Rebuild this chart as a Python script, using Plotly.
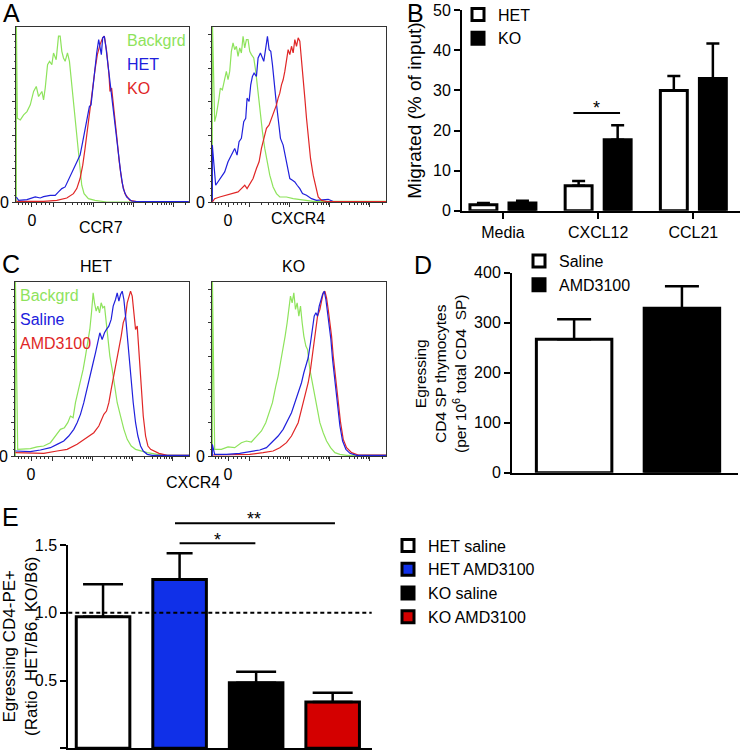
import math
import plotly.graph_objects as go

FONT = "Arial, Liberation Sans, sans-serif"
GREEN = "#8ee35c"
BLUE = "#2020dc"
RED = "#e02626"
BAR_BLUE = "#1030e8"
BAR_RED = "#d40000"
W, H = 740, 754

# ---------------- A: flow histograms (channel, % of max) ----------------
A_CCR7_BG_X = [0, 0, 3, 12, 22, 32, 42, 52, 60, 67, 77, 82, 87, 94, 100, 107, 112, 120, 127, 132,
               137, 142, 147, 154, 160, 167, 177, 182, 187, 192, 197, 204, 217, 237, 272, 519]
A_CCR7_BG_Y = [0, 110, 50, 49, 52, 54, 58, 66, 69, 63, 66, 61, 68, 82, 84, 82, 89, 85, 99, 99,
               90, 86, 84, 89, 84, 70, 52, 40, 28, 18, 10, 5, 2, 1, 0, 0]
A_CCR7_HET_X = [0, 7, 32, 57, 72, 82, 102, 117, 127, 137, 147, 157, 167, 174, 182, 192, 200, 207, 214, 220,
                225, 230, 237, 242, 248, 252, 256, 260, 265, 270, 277, 284, 292, 300, 307, 314, 322, 332,
                347, 362, 519]
A_CCR7_HET_Y = [3, 1, 1.4, 3, 2.4, 3.2, 4, 4, 6, 8, 9, 13, 17, 20, 24, 28, 36, 44, 50, 57,
                58, 68, 80, 89, 97, 93, 88, 98, 99, 92, 80, 70, 58, 44, 30, 18, 8, 3,
                0.6, 0.3, 0.3]
A_CCR7_KO_X = [0, 82, 122, 152, 172, 182, 192, 200, 207, 214, 222, 230, 237, 244, 252, 260, 265, 272, 279,
               282, 287, 294, 302, 310, 318, 327, 342, 362, 519]
A_CCR7_KO_Y = [0.4, 0.4, 1, 2.4, 5, 8, 14, 22, 32, 44, 56, 68, 79, 88, 94, 98, 99, 90, 76,
               66, 68, 56, 40, 24, 12, 5, 1, 0.3, 0.3]

A_CXCR4_BG_X = [0, 0, 7, 12, 20, 24, 30, 37, 42, 47, 52, 57, 62, 67, 72, 77, 82, 87, 92, 97,
                102, 107, 112, 117, 124, 130, 135, 140, 145, 150, 157, 164, 172, 182, 192, 202, 222,
                242, 272, 302, 520]
A_CXCR4_BG_Y = [0, 110, 48, 52, 62, 68, 67, 74, 78, 73, 78, 90, 95, 91, 93, 87, 92, 89, 99, 92,
                97, 97, 90, 88, 86, 78, 68, 58, 52, 42, 32, 24, 16, 9, 5, 3, 3,
                2, 1, 0.4, 0.4]
A_CXCR4_HET_X = [0, 0, 10, 17, 27, 37, 47, 57, 67, 74, 80, 87, 94, 100, 104, 110, 115, 120, 125, 132,
                 137, 144, 150, 154, 160, 165, 170, 175, 180, 185, 190, 197, 204, 212, 218, 224, 232,
                 240, 247, 254, 262, 270, 282, 297, 312, 347, 362, 520]
A_CXCR4_HET_Y = [0, 34, 10, 12, 15, 18, 24, 28, 32, 28, 36, 38, 48, 50, 62, 60, 70, 75, 77, 75,
                 86, 89, 86, 84, 92, 99, 91, 90, 82, 70, 62, 50, 38, 34, 28, 20, 14,
                 13, 12, 10, 8, 5, 4, 2, 1, 1.6, 0.3, 0.3]
A_CXCR4_KO_X = [0, 7, 22, 42, 62, 77, 87, 97, 104, 112, 122, 132, 140, 147, 154, 162, 170, 177, 184, 192,
                197, 202, 207, 212, 217, 222, 227, 232, 237, 242, 247, 252, 257, 262, 267, 272, 277,
                282, 287, 294, 302, 310, 317, 327, 342, 520]
A_CXCR4_KO_Y = [0, 2, 3, 4, 5, 6, 8, 10, 8, 11, 14, 20, 24, 32, 38, 44, 46, 50, 53, 58,
                62, 65, 70, 73, 78, 84, 91, 88, 93, 89, 97, 93, 98, 96, 86, 74, 62,
                50, 38, 26, 16, 8, 3, 1, 0.3, 0.3]

# ---------------- C: CXCR4 histograms, HET and KO mice ----------------
C_HET_BG_X = [0, 0, 7, 25, 45, 65, 85, 105, 120, 135, 147, 157, 165, 173, 180, 187, 195, 203, 210, 217,
              223, 228, 233, 237, 242, 247, 252, 257, 262, 267, 272, 277, 283, 290, 297, 305, 315,
              325, 335, 347, 360, 375, 395, 425, 455, 522]
C_HET_BG_Y = [0, 110, 4, 4, 4.4, 5.5, 6, 8, 12, 16, 17, 20, 24, 23, 32, 38, 46, 52, 60, 68,
              76, 86, 98, 92, 87, 90, 86, 92, 89, 90, 80, 70, 60, 52, 42, 32, 24,
              16, 10, 6, 4, 3, 2, 1, 0.4, 0.4]
C_HET_SAL_X = [0, 25, 45, 75, 105, 125, 145, 160, 175, 185, 195, 205, 215, 225, 233, 240, 247, 253, 260,
               267, 273, 280, 287, 293, 300, 305, 310, 315, 320, 325, 330, 335, 341, 347, 353, 360,
               367, 375, 383, 395, 410, 522]
C_HET_SAL_Y = [3, 3, 2.6, 3.6, 5, 7, 9, 12, 16, 20, 25, 32, 40, 48, 56, 62, 68, 74, 70,
               74, 76, 78, 82, 90, 94, 98, 93, 97, 99, 94, 84, 72, 58, 44, 32, 20,
               12, 6, 3, 1, 0.4, 0.4]
C_HET_AMD_X = [0, 45, 85, 125, 155, 185, 205, 220, 235, 250, 265, 273, 280, 287, 295, 303, 310, 317, 323,
               330, 335, 340, 345, 350, 355, 360, 365, 370, 377, 383, 390, 397, 405, 415, 430, 455, 522]
C_HET_AMD_Y = [2, 2, 1.6, 3, 4, 7, 10, 12, 14, 18, 25, 27, 32, 40, 48, 56, 64, 72, 80,
               84, 92, 96, 99, 96, 86, 76, 78, 62, 42, 24, 12, 6, 4, 3, 1.6, 0.4, 0.4]

C_KO_BG_X = [0, 0, 7, 27, 47, 67, 87, 102, 117, 132, 147, 160, 170, 180, 190, 197, 204, 212, 218, 224,
             229, 234, 239, 244, 249, 254, 259, 264, 269, 274, 280, 285, 292, 300, 307, 314, 322,
             332, 342, 354, 367, 382, 402, 522]
C_KO_BG_Y = [0, 110, 4, 4, 5.5, 5, 8, 9, 8.4, 12, 15, 20, 26, 32, 42, 48, 56, 64, 72, 80,
             90, 96, 92, 98, 88, 92, 84, 90, 80, 72, 66, 64, 52, 44, 36, 28, 20,
             14, 9, 5, 2, 1, 0.4, 0.4]
C_KO_SAL_X = [0, 0, 7, 42, 82, 112, 142, 162, 182, 197, 212, 227, 237, 247, 257, 267, 274, 280, 287, 294,
              300, 305, 310, 315, 320, 325, 330, 335, 340, 345, 350, 355, 360, 367, 374, 382, 390,
              400, 412, 432, 522]
C_KO_SAL_Y = [0, 7, 1, 1, 1.6, 2.4, 3.6, 5, 9, 12, 16, 22, 26, 32, 38, 44, 50, 54, 59, 68,
              76, 84, 86, 84, 90, 94, 97, 99, 94, 86, 78, 70, 58, 44, 30, 18, 9,
              4, 1.6, 0.4, 0.4]
C_KO_AMD_X = [0, 62, 112, 152, 182, 202, 222, 237, 247, 257, 267, 277, 287, 294, 300, 305, 310, 315, 322,
              327, 332, 337, 342, 347, 352, 357, 362, 369, 376, 384, 392, 402, 417, 437, 522]
C_KO_AMD_Y = [0.6, 0.6, 1, 2, 3, 5, 8, 12, 16, 20, 28, 36, 44, 52, 62, 70, 78, 84, 88,
              94, 98, 99, 95, 88, 80, 72, 60, 46, 32, 20, 10, 5, 2, 0.6, 0.6]

# ---------------- B: migration assay ----------------
B_CATS = ["Media", "CXCL12", "CCL21"]
B_HET = [1.5, 6.2, 30.0]
B_HET_ERR = [0.4, 1.2, 3.6]
B_KO = [1.9, 17.7, 33.0]
B_KO_ERR = [0.6, 3.6, 8.7]

# ---------------- D: egress, HET mice ----------------
D_CATS = ["Saline", "AMD3100"]
D_VALS = [267, 329]
D_ERR = [40, 44]

# ---------------- E: egress ratio ----------------
E_CATS = ["HET saline", "HET AMD3100", "KO saline", "KO AMD3100"]
E_VALS = [0.97, 1.245, 0.484, 0.342]
E_ERR = [0.24, 0.195, 0.081, 0.068]
E_COLORS = ["white", BAR_BLUE, "black", BAR_RED]

# flow-axis decorations (biexponential display)
ZERO_CH = 47
DECADES = [112, 232, 352, 472]
X_MINOR = [8, 18, 28, 38, 62, 76, 88, 100]
for d in DECADES:
    for k in range(2, 10):
        v = d + 120 * math.log10(k)
        if v < 520:
            X_MINOR.append(v)


def dx(a, b):
    return [a / W, b / W]


def dy(top, bottom):
    return [1 - bottom / H, 1 - top / H]


fig = go.Figure()


def hist(xs, ys, color, n):
    fig.add_trace(go.Scatter(x=xs, y=ys, mode="lines", line=dict(color=color, width=1.2),
                             xaxis="x" + n, yaxis="y" + n, showlegend=False, hoverinfo="skip"))


for n, series in [
    ("", [(A_CCR7_BG_X, A_CCR7_BG_Y, GREEN), (A_CCR7_KO_X, A_CCR7_KO_Y, RED), (A_CCR7_HET_X, A_CCR7_HET_Y, BLUE)]),
    ("2", [(A_CXCR4_BG_X, A_CXCR4_BG_Y, GREEN), (A_CXCR4_HET_X, A_CXCR4_HET_Y, BLUE), (A_CXCR4_KO_X, A_CXCR4_KO_Y, RED)]),
    ("4", [(C_HET_BG_X, C_HET_BG_Y, GREEN), (C_HET_AMD_X, C_HET_AMD_Y, RED), (C_HET_SAL_X, C_HET_SAL_Y, BLUE)]),
    ("5", [(C_KO_BG_X, C_KO_BG_Y, GREEN), (C_KO_AMD_X, C_KO_AMD_Y, RED), (C_KO_SAL_X, C_KO_SAL_Y, BLUE)]),
]:
    for xs, ys, c in series:
        hist(xs, ys, c, n)

# B bars
for name, vals, err, fill in [("HET", B_HET, B_HET_ERR, "white"), ("KO", B_KO, B_KO_ERR, "black")]:
    fig.add_trace(go.Bar(x=B_CATS, y=vals, name=name, xaxis="x3", yaxis="y3", legend="legend",
                         marker=dict(color=fill, line=dict(color="black", width=3)),
                         error_y=dict(type="data", array=err, arrayminus=[0] * len(err), symmetric=False,
                                      color="black", thickness=2.5, width=6.5)))

# D bars
for i, name in enumerate(D_CATS):
    fig.add_trace(go.Bar(x=[name], y=[D_VALS[i]], name=name, xaxis="x6", yaxis="y6", legend="legend2",
                         offsetgroup="d", width=0.7,
                         marker=dict(color=["white", "black"][i], line=dict(color="black", width=3)),
                         error_y=dict(type="data", array=[D_ERR[i]], arrayminus=[0], symmetric=False,
                                      color="black", thickness=2.5, width=17)))

# E bars
for i, name in enumerate(E_CATS):
    fig.add_trace(go.Bar(x=[name], y=[E_VALS[i]], name=name, xaxis="x7", yaxis="y7", legend="legend3",
                         offsetgroup="e", width=0.7,
                         marker=dict(color=E_COLORS[i], line=dict(color="black", width=3)),
                         error_y=dict(type="data", array=[E_ERR[i]], arrayminus=[0], symmetric=False,
                                      color="black", thickness=2.5, width=13 if i == 1 else 20)))

hx = dict(range=[-1, 520], showline=True, mirror=True, linecolor="#333", linewidth=1,
          ticks="outside", ticklen=4, tickwidth=1, tickcolor="#333",
          tickmode="array", tickvals=[ZERO_CH] + DECADES, ticktext=["0", "", "", "", ""],
          minor=dict(tickmode="array", tickvals=X_MINOR, ticks="outside", ticklen=2, tickcolor="#333"),
          showgrid=False, zeroline=False, tickfont=dict(size=16), automargin=False)
hy = dict(range=[0, 104.5], showline=True, mirror=True, linecolor="#333", linewidth=1,
          ticks="outside", ticklen=3, tickwidth=1, tickcolor="#333",
          tickmode="array", tickvals=[0, 20, 40, 60, 80, 100], ticktext=["0", "", "", "", "", ""],
          minor=dict(tickmode="array", tickvals=[4, 8, 12, 16, 24, 28, 32, 36, 44, 48, 52, 56, 64, 68, 72, 76,
                                                 84, 88, 92, 96], ticks="outside", ticklen=1.5, tickcolor="#555"),
          showgrid=False, zeroline=False, tickfont=dict(size=16), automargin=False)
bar_ax = dict(showline=True, linecolor="black", linewidth=2, ticks="outside", ticklen=6, tickwidth=2,
              tickcolor="black", showgrid=False, zeroline=False, tickfont=dict(size=16), automargin=False)

layout = dict(
    width=W, height=H, margin=dict(l=0, r=0, t=0, b=0, pad=0, autoexpand=False),
    paper_bgcolor="white", plot_bgcolor="white",
    font=dict(family=FONT, size=16, color="black"),
    barmode="group", bargap=0.18, bargroupgap=0.31,
    xaxis=dict(hx, domain=dx(16, 189), anchor="y"),
    yaxis=dict(hy, domain=dy(27, 202), anchor="x"),
    xaxis2=dict(hx, domain=dx(212, 386), anchor="y2"),
    yaxis2=dict(hy, domain=dy(27, 202), anchor="x2"),
    xaxis4=dict(hx, domain=dx(15, 189), anchor="y4"),
    yaxis4=dict(hy, domain=dy(282, 456), anchor="x4"),
    xaxis5=dict(hx, domain=dx(212, 386), anchor="y5"),
    yaxis5=dict(hy, domain=dy(282, 456), anchor="x5"),
    xaxis3=dict(bar_ax, domain=dx(462, 740), anchor="y3", range=[-0.43, 2.49]),
    yaxis3=dict(bar_ax, domain=dy(10.3, 210.7), anchor="x3", range=[0, 50], dtick=10,
                title=dict(text="Migrated (% of input)", standoff=6)),
    xaxis6=dict(bar_ax, domain=dx(512, 738), anchor="y6", range=[-0.576, 1.52], ticks="",
                showticklabels=False),
    yaxis6=dict(bar_ax, domain=dy(272.7, 472.7), anchor="x6", range=[0, 400], dtick=100),
    xaxis7=dict(bar_ax, domain=dx(68.3, 371.7), anchor="y7", range=[-0.454, 3.51], ticks="",
                showticklabels=False),
    yaxis7=dict(bar_ax, domain=dy(545, 748.3), anchor="x7", range=[0, 1.5], dtick=0.5, tickformat=".1f"),
    legend=dict(x=458 / W, y=1 + 2.5 / H, xanchor="left", yanchor="top", bgcolor="rgba(0,0,0,0)",
                font=dict(size=16), tracegroupgap=0),
    legend2=dict(x=519 / W, y=1 - 244 / H, xanchor="left", yanchor="top", bgcolor="rgba(0,0,0,0)",
                 font=dict(size=16)),
    legend3=dict(x=388 / W, y=1 - 528.5 / H, xanchor="left", yanchor="top", bgcolor="rgba(0,0,0,0)",
                 font=dict(size=16)),
)
fig.update_layout(**layout)

ann = []
# panel letters
for letter, x, y in [("A", 1, 13), ("B", 405, 13), ("C", 0, 264), ("D", 412, 265), ("E", 0, 517)]:
    ann.append(dict(text=letter, x=x / W, y=1 - y / H, xref="paper", yref="paper", xanchor="left",
                    yanchor="middle", showarrow=False, font=dict(size=25)))
# histogram axis titles and headers
for text, x, y in [("CCR7", 101, 227), ("CXCR4", 298, 218), ("HET", 96, 266), ("KO", 293, 266),
                   ("CXCR4", 193, 482)]:
    ann.append(dict(text=text, x=x / W, y=1 - y / H, xref="paper", yref="paper", xanchor="center",
                    yanchor="middle", showarrow=False, font=dict(size=16)))
# rotated y titles for D and E
ann.append(dict(text="Egressing<br>CD4 SP thymocytes<br>(per 10<sup>6</sup> total CD4  SP)", textangle=-90,
                x=440 / W, y=1 - 374 / H, xref="paper", yref="paper", xanchor="center", yanchor="middle",
                showarrow=False, font=dict(size=15.5)))
ann.append(dict(text="Egressing CD4-PE+<br>(Ratio  HET/B6, KO/B6)", textangle=-90,
                x=20 / W, y=1 - 646 / H, xref="paper", yref="paper", xanchor="center", yanchor="middle",
                showarrow=False, font=dict(size=17)))
# histogram keys
for n, labels in [("", [("Backgrd", GREEN), ("HET", BLUE), ("KO", RED)]),
                  ("4", [("Backgrd", GREEN), ("Saline", BLUE), ("AMD3100", RED)])]:
    x0 = 0.63 if n == "" else 0.015
    for j, (t, c) in enumerate(labels):
        ann.append(dict(text=t, x=x0, y=0.925 - j * 0.138, xref="x" + n + " domain", yref="y" + n + " domain",
                        xanchor="left", yanchor="middle", showarrow=False, font=dict(size=16, color=c)))
# significance marks
ann.append(dict(text="*", x=0.985, y=25.6, xref="x3", yref="y3", xanchor="center", yanchor="middle",
                showarrow=False, font=dict(size=18)))
ann.append(dict(text="**", x=1.97, y=1.692 / 1.5, xref="x7", yref="y7 domain", xanchor="center",
                yanchor="middle", showarrow=False, font=dict(size=18)))
ann.append(dict(text="*", x=1.5, y=1.537 / 1.5, xref="x7", yref="y7 domain", xanchor="center",
                yanchor="middle", showarrow=False, font=dict(size=18)))
fig.update_layout(annotations=ann)

shapes = [
    dict(type="line", xref="x3", yref="y3", x0=0.74, x1=1.23, y0=24.4, y1=24.4, line=dict(color="black", width=2)),
    dict(type="line", xref="x7", yref="y7 domain", x0=0.94, x1=3.03, y0=1.66 / 1.5, y1=1.66 / 1.5,
         line=dict(color="black", width=2)),
    dict(type="line", xref="x7", yref="y7 domain", x0=1.0, x1=1.99, y0=1.513 / 1.5, y1=1.513 / 1.5,
         line=dict(color="black", width=2)),
    dict(type="line", xref="x7 domain", yref="y7", x0=0, x1=1, y0=1, y1=1,
         line=dict(color="black", width=2, dash="4px,3px")),
]
fig.update_layout(shapes=shapes)

# the page body has a default 8px margin; drop it so the figure sits at the window origin
fig.write_html("out.html", config={"displayModeBar": False},
               post_script="document.body.style.margin = '0px';")
